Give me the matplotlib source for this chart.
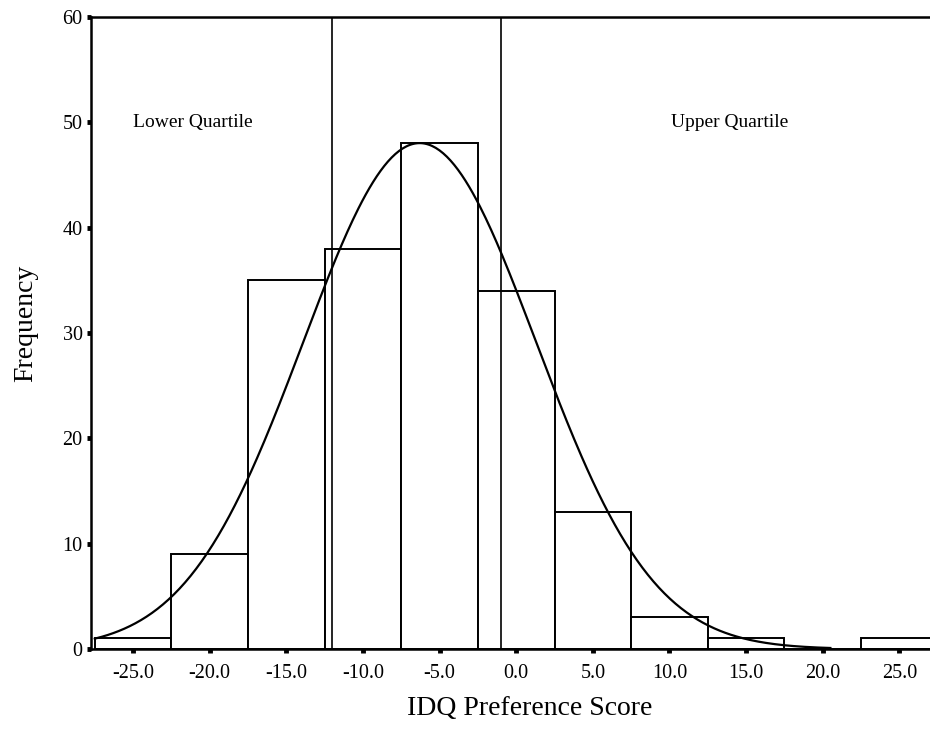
import matplotlib
matplotlib.use("Agg")
import matplotlib.pyplot as plt
import numpy as np

# histogram data (bin centres, width 5)
bin_centers = [-25, -20, -15, -10, -5, 0, 5, 10, 15, 20, 25]
counts = [1, 9, 35, 38, 48, 34, 13, 3, 1, 0, 1]
bin_width = 5.0

# fitted normal curve parameters
curve_mean = -6.3
curve_sd = 7.6
curve_n = sum(counts)

# quartile cut-offs
quartile_lines = [-12.0, -1.0]
quartile_labels = ["Lower Quartile", "Upper Quartile"]
quartile_label_x = [-25.0, 10.1]

x_ticks = [-25, -20, -15, -10, -5, 0, 5, 10, 15, 20, 25]
y_ticks = [0, 10, 20, 30, 40, 50, 60]

plt.rcParams['font.family'] = ['Liberation Serif', 'DejaVu Serif']

fig = plt.figure(figsize=(9.3, 7.47), dpi=100)
ax = fig.add_axes([0.0978, 0.1312, 0.9022, 0.8460])

ax.bar(bin_centers, counts, width=bin_width, facecolor="white",
       edgecolor="black", linewidth=1.4, zorder=2)

xs = np.linspace(-27.5, 20.5, 400)
ys = curve_n * bin_width / (curve_sd * np.sqrt(2 * np.pi)) * \
    np.exp(-0.5 * ((xs - curve_mean) / curve_sd) ** 2)
ax.plot(xs, ys, color="black", linewidth=1.6, zorder=4)

for q in quartile_lines:
    ax.axvline(q, color="black", linewidth=1.2, zorder=3)

for lab, lx in zip(quartile_labels, quartile_label_x):
    ax.text(lx, 50, lab, fontsize=14, ha="left", va="center")

ax.set_xlim(-27.75, 27.0)
ax.set_ylim(0, 60)
ax.set_xticks(x_ticks)
ax.set_xticklabels(["%.1f" % v for v in x_ticks], fontsize=14.5)
ax.set_yticks(y_ticks)
ax.set_yticklabels([str(v) for v in y_ticks], fontsize=14.5)
ax.tick_params(direction="out", length=3, width=3.5, pad=3)
ax.tick_params(axis="x", pad=8)

for side in ["left", "top", "bottom"]:
    ax.spines[side].set_linewidth(1.8)
ax.spines["right"].set_visible(False)

ax.set_xlabel("IDQ Preference Score", fontsize=20)
ax.set_ylabel("Frequency", fontsize=20)
ax.xaxis.set_label_coords(0.523, -0.074)
ax.yaxis.set_label_coords(-0.063, 0.516)

fig.savefig("out.png", dpi=100)
